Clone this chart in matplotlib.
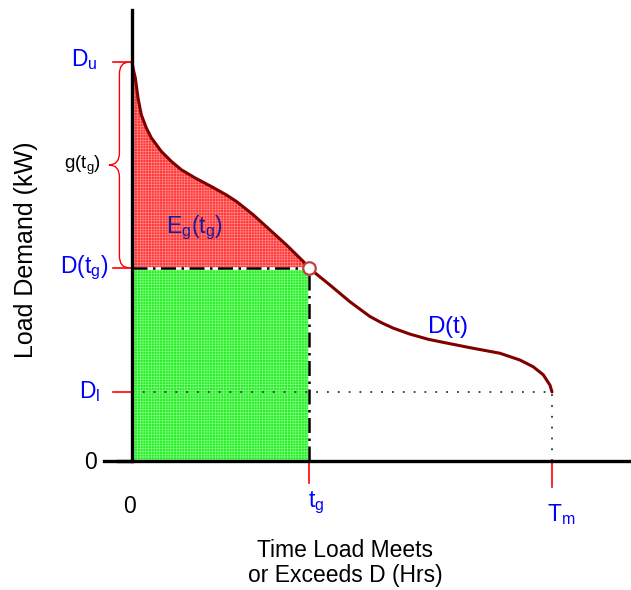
import matplotlib.pyplot as plt
from matplotlib.path import Path
from matplotlib.patches import PathPatch
import numpy as np

plt.rcParams['font.family'] = ['Liberation Sans', 'DejaVu Sans']
plt.rcParams['mathtext.fontset'] = 'custom'
plt.rcParams['mathtext.rm'] = 'Liberation Sans'
plt.rcParams['mathtext.it'] = 'Liberation Sans'
plt.rcParams['mathtext.default'] = 'regular'
plt.rcParams['hatch.linewidth'] = 0.4

# load duration curve D(t)
t_curve = [0, 0.03, 0.079, 0.143, 0.221, 0.340, 0.460, 0.698, 0.936, 1.174,
           1.493, 1.888, 2.245, 2.493, 2.888, 3.286, 3.683, 4.079, 4.21,
           4.714, 5.190, 5.667, 5.95, 6.221, 6.619, 7.055, 7.333, 8.048, 8.762,
           9.238, 9.555, 9.793, 9.952, 10.0]
D_curve = [10.0, 9.82, 9.60, 9.10, 8.68, 8.35, 8.10, 7.76, 7.51, 7.30,
           7.10, 6.88, 6.67, 6.50, 6.17, 5.79, 5.41, 5.00, 4.84,
           4.41, 3.99, 3.62, 3.46, 3.33, 3.18, 3.05, 2.99, 2.84, 2.70,
           2.53, 2.36, 2.16, 1.90, 1.73]
tg = 4.21
D_tg = 4.84
Tm = 10.0
Du = 10.0
Dl = 1.73

t_curve = np.array(t_curve)
D_curve = np.array(D_curve)

fig = plt.figure(figsize=(6.31, 5.9), dpi=100)
ax = fig.add_axes([0, 0, 1, 1])
ax.set_xlim(-3.143, 11.881)
ax.set_ylim(-3.233, 11.554)
ax.axis('off')

blue = '#0000ff'

# filled areas
m = t_curve <= tg
ax.fill_between(t_curve[m], D_curve[m], D_tg, facecolor='#ff3a3a',
                edgecolor='#ff9090', hatch='++++++', linewidth=0, zorder=1)
ax.fill_between([0, tg], 0, D_tg, facecolor='#2aee2a',
                edgecolor='#8cff8c', hatch='++++++', linewidth=0, zorder=1)

# guide lines
dashdot = (0, (6, 2.2, 1, 2.2))
ax.plot([0, tg], [D_tg, D_tg], color='white', lw=1.8, zorder=2)
ax.plot([0, tg], [D_tg, D_tg], color='black', lw=1.8, ls=dashdot, zorder=3)
ax.plot([tg, tg], [0, D_tg], color='white', lw=1.8, zorder=2)
ax.plot([tg, tg], [0, D_tg], color='black', lw=1.8, ls=dashdot, zorder=3)
ax.plot([0, Tm], [Dl, Dl], color='#333333', lw=1.3, ls=(0, (1, 5)), zorder=3)
ax.plot([Tm, Tm], [0, Dl], color='#333333', lw=1.3, ls=(0, (1, 5)), zorder=3)

# the curve
ax.plot(t_curve, D_curve, color='#800000', lw=2.2, zorder=4,
        solid_capstyle='round', solid_joinstyle='round')
ax.plot([tg], [D_tg], 'o', ms=9, mfc='white', mec='#c04040', mew=1.6, zorder=5)

# axes
ax.plot([0, 0], [0, 11.3], color='black', lw=2.4, zorder=6)
ax.plot([-0.333, 11.857], [0, 0], color='black', lw=2.4, zorder=6)

# tick marks
for y in [Du, D_tg, Dl]:
    ax.plot([-0.45, 0], [y, y], color='red', lw=1.2, zorder=5)
ax.plot([-0.67, 0], [0, 0], color='black', lw=2.4, zorder=6)
ax.plot([tg, tg], [0, -0.55], color='red', lw=1.2, zorder=5)
ax.plot([Tm, Tm], [0, -0.65], color='red', lw=1.2, zorder=5)

# brace for g(tg)
xe, xm, xt = -0.06, -0.30, -0.55
top, bot = Du, D_tg
mid = 7.42
r = 0.3
verts = [(xe, top), (xm, top), (xm, top - r),
         (xm, mid + r), (xm, mid), (xt, mid),
         (xm, mid), (xm, mid - r),
         (xm, bot + r), (xm, bot), (xe, bot)]
codes = [Path.MOVETO, Path.CURVE3, Path.CURVE3,
         Path.LINETO, Path.CURVE3, Path.CURVE3,
         Path.CURVE3, Path.CURVE3,
         Path.LINETO, Path.CURVE3, Path.CURVE3]
ax.add_patch(PathPatch(Path(verts, codes), fill=False, edgecolor='red', lw=1))

# labels
fs = 16.5
ax.text(-1.13, Du + 0.05, '$D_u$', color=blue, fontsize=fs, ha='center', va='center')
ax.text(-1.13, D_tg, '$D(t_g)$', color=blue, fontsize=fs, ha='center', va='center')
ax.text(-1.0, Dl + 0.02, '$D_l$', color=blue, fontsize=fs, ha='center', va='center')
ax.text(-1.19, 7.42, '$g(t_g)$', color='black', fontsize=13.5, ha='center', va='center')
ax.text(-1.0, -0.05, '0', color='black', fontsize=fs, ha='center', va='center')
ax.text(-0.05, -1.15, '0', color='black', fontsize=fs, ha='center', va='center')
ax.text(4.38, -1.05, '$t_g$', color=blue, fontsize=fs, ha='center', va='center')
ax.text(10.21, -1.35, '$T_m$', color=blue, fontsize=fs, ha='center', va='center')
ax.text(1.48, 5.84, '$E_g(t_g)$', color='#1a1a9a', fontsize=fs, ha='center', va='center')
ax.text(7.5, 3.36, '$D(t)$', color=blue, fontsize=17.5, ha='center', va='center')

ax.text(-2.52, 5.29, 'Load Demand (kW)', fontsize=18, rotation=90,
        ha='center', va='center')
ax.text(5.07, -2.55, 'Time Load Meets\nor Exceeds D (Hrs)', fontsize=16.5,
        ha='center', va='center', linespacing=1.12)

fig.savefig('out.png', dpi=100)
